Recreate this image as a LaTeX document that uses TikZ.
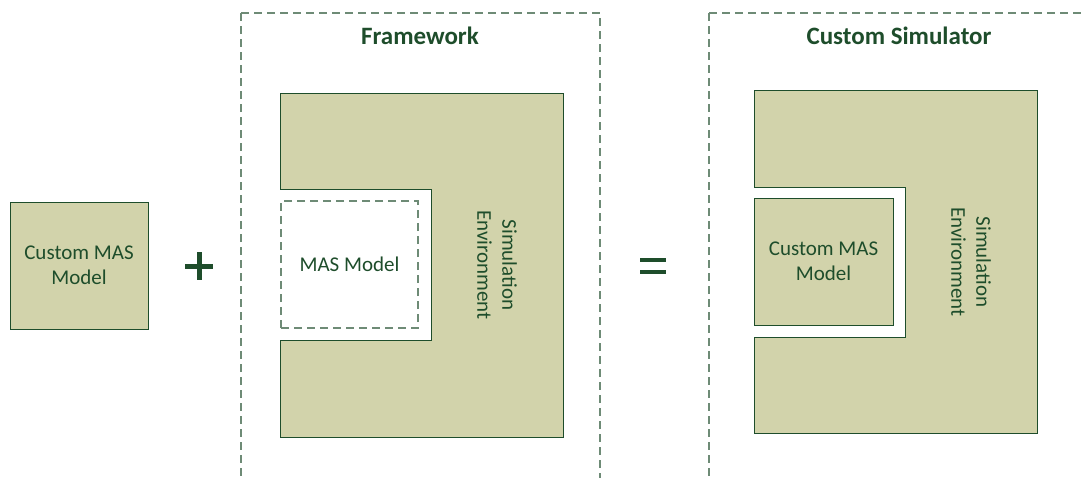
\documentclass[tikz,border=0pt]{standalone}
\usepackage{fontspec}
\setmainfont{Carlito}
\usetikzlibrary{calc}
\definecolor{boxfill}{HTML}{D2D3AB}
\definecolor{boxline}{HTML}{1E4D2B}
\definecolor{txt}{HTML}{1E4D2B}
\definecolor{dashc}{HTML}{6E8B76}
\begin{document}
\begin{tikzpicture}[x=1pt,y=-1pt,
  solidbox/.style={draw=boxline,fill=boxfill,line width=1pt},
  dashbox/.style={draw=dashc,line width=1.2pt,dash pattern=on 8pt off 5pt},
  lbl/.style={text=txt,font=\fontsize{21}{25}\selectfont,align=center},
  ttl/.style={text=txt,font=\fontsize{25}{28}\selectfont\bfseries},
  sym/.style={draw=txt,line width=5pt}]
\useasboundingbox (0,0) rectangle (1083,477);
% left box
\node[solidbox,lbl,minimum width=138pt,minimum height=127pt,inner sep=0pt] (cm) at (79,265.5) {Custom MAS\\Model};
% plus
\coordinate (pc) at (199,266);
\draw[sym] ($(pc)+(-14,0)$) -- ($(pc)+(14,0)$);
\draw[sym] ($(pc)+(0,-14)$) -- ($(pc)+(0,14)$);
% framework frame
\begin{scope}
\clip (0,0) rectangle (1083,477);
\draw[dashbox] (241,13) -- (600,13) -- (600,490);
\draw[dashbox] (241,13) -- (241,490);
\draw[dashbox] (709,13) -- (1100,13);
\draw[dashbox] (709,13) -- (709,490);
\end{scope}
\node[ttl] (fw) at (420,36) {Framework};
\draw[solidbox] (280,93) -- (563,93) -- (563,437) -- (280,437) -- (280,340) -- (431,340) -- (431,189) -- (280,189) -- cycle;
\node[dashbox,lbl,minimum width=137pt,minimum height=127pt,inner sep=0pt] (mm) at (349.5,264.5) {MAS Model};
\node[lbl,rotate=-90] (se1) at (497,265) {Simulation\\Environment};
% equals
\coordinate (ec) at (653,266);
\draw[sym,line width=4.5pt] ($(ec)+(-13,-6)$) -- ($(ec)+(13,-6)$);
\draw[sym,line width=4.5pt] ($(ec)+(-13,6)$) -- ($(ec)+(13,6)$);
% custom simulator
\node[ttl] (cs) at (899,36) {Custom Simulator};
\draw[solidbox] (754,90) -- (1037,90) -- (1037,433) -- (754,433) -- (754,337) -- (905,337) -- (905,187) -- (754,187) -- cycle;
\node[solidbox,lbl,minimum width=139pt,minimum height=127pt,inner sep=0pt] (cm2) at (823.5,261.5) {Custom MAS\\Model};
\node[lbl,rotate=-90] (se2) at (971,262) {Simulation\\Environment};
\end{tikzpicture}
\end{document}
